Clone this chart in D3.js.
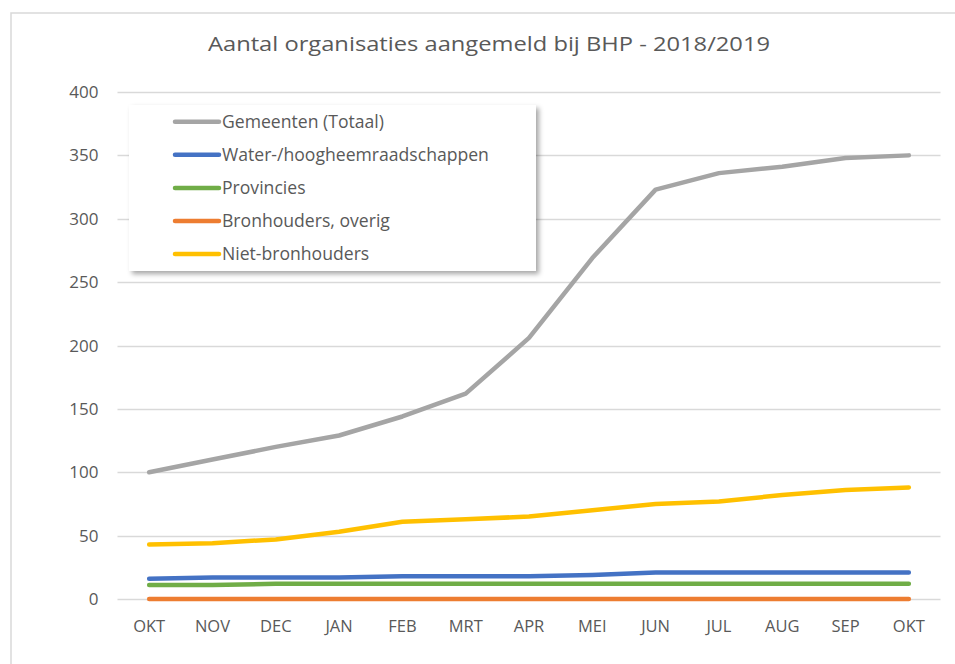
<!DOCTYPE html>
<html>
<head>
<meta charset="utf-8">
<script src="https://cdn.jsdelivr.net/npm/d3@7"></script>
<style>
  body { margin: 0; background: #fff; }
  svg text { font-family: "Open Sans", "Noto Sans", sans-serif; fill: #595959; }
</style>
</head>
<body>
<div id="chart"></div>
<script>
// data
var months = ["OKT", "NOV", "DEC", "JAN", "FEB", "MRT", "APR", "MEI", "JUN", "JUL", "AUG", "SEP", "OKT"];
var seriesNames = ["Gemeenten (Totaal)", "Water-/hoogheemraadschappen", "Provincies", "Bronhouders, overig", "Niet-bronhouders"];
var gemeenten = [100, 110, 120, 129, 144, 162, 206, 269, 323, 336, 341, 348, 350];
var water     = [16, 17, 17, 17, 18, 18, 18, 19, 21, 21, 21, 21, 21];
var provincies = [11, 11, 12, 12, 12, 12, 12, 12, 12, 12, 12, 12, 12];
var overig    = [0, 0, 0, 0, 0, 0, 0, 0, 0, 0, 0, 0, 0];
var niet      = [43, 44, 47, 53, 61, 63, 65, 70, 75, 77, 82, 86, 88];
var yTicks = [0, 50, 100, 150, 200, 250, 300, 350, 400];
var colors = ["#a5a5a5", "#4472c4", "#70ad47", "#ed7d31", "#ffc000"];

var allSeries = [gemeenten, water, provincies, overig, niet];

// 1. svg + frame ----------------------------------------------
var W = 955, H = 664;
var svg = d3.select("#chart").append("svg")
    .attr("width", W)
    .attr("height", H);

svg.append("rect")
    .attr("x", 11).attr("y", 13)
    .attr("width", W + 10).attr("height", H + 10)
    .attr("fill", "#fff")
    .attr("stroke", "#d9d9d9")
    .attr("stroke-width", 1.5);

svg.append("text")
    .attr("x", 489).attr("y", 51)
    .attr("text-anchor", "middle")
    .attr("textLength", 562)
    .attr("lengthAdjust", "spacingAndGlyphs")
    .style("font-size", "20px")
    .text("Aantal organisaties aangemeld bij BHP - 2018/2019");

// 2. scales ---------------------------------------------------
var x = d3.scalePoint()
    .domain(d3.range(months.length))
    .range([117.5, 940.5])
    .padding(0.5);

var y = d3.scaleLinear()
    .domain([0, 400])
    .range([599, 92]);

// gridlines
svg.append("g")
    .selectAll("line")
    .data(yTicks)
    .enter()
    .append("line")
    .attr("x1", 117.5).attr("x2", 940.5)
    .attr("y1", function(d) { return Math.round(y(d)) + 0.5; })
    .attr("y2", function(d) { return Math.round(y(d)) + 0.5; })
    .attr("stroke", "#d9d9d9")
    .attr("stroke-width", 1.3);

// y labels
svg.append("g")
    .selectAll("text")
    .data(yTicks)
    .enter()
    .append("text")
    .attr("x", 98.5)
    .attr("y", function(d) { return y(d) + 6; })
    .attr("text-anchor", "end")
    .style("font-size", "17px")
    .text(function(d) { return d; });

// x labels
svg.append("g")
    .selectAll("text")
    .data(months)
    .enter()
    .append("text")
    .attr("x", function(d, i) { return x(i); })
    .attr("y", 631.5)
    .attr("text-anchor", "middle")
    .style("font-size", "16.5px")
    .text(function(d) { return d; });

// 3. lines ----------------------------------------------------
var line = d3.line()
    .x(function(d, i) { return x(i); })
    .y(function(d) { return y(d); });

// draw bottom-most first so grey sits on top like the original
var order = [3, 2, 1, 4, 0];
svg.append("g")
    .selectAll("path")
    .data(order)
    .enter()
    .append("path")
    .attr("d", function(k) { return line(allSeries[k]); })
    .attr("fill", "none")
    .attr("stroke", function(k) { return colors[k]; })
    .attr("stroke-width", 4.5)
    .attr("stroke-linecap", "round")
    .attr("stroke-linejoin", "round");

// 4. legend ---------------------------------------------------
var defs = svg.append("defs");
var f = defs.append("filter").attr("id", "shadow")
    .attr("x", "-10%").attr("y", "-10%").attr("width", "130%").attr("height", "130%");
f.append("feDropShadow")
    .attr("dx", 3).attr("dy", 3).attr("stdDeviation", 2.5)
    .attr("flood-color", "#000").attr("flood-opacity", 0.35);

var lg = svg.append("g");
lg.append("rect")
    .attr("x", 129).attr("y", 105)
    .attr("width", 407).attr("height", 166)
    .attr("fill", "#fff")
    .attr("filter", "url(#shadow)");

var rows = lg.selectAll("g.row")
    .data(seriesNames)
    .enter()
    .append("g")
    .attr("class", "row")
    .attr("transform", function(d, i) { return "translate(0," + (121.7 + i * 33.1) + ")"; });

rows.append("line")
    .attr("x1", 175).attr("x2", 219)
    .attr("y1", 0).attr("y2", 0)
    .attr("stroke", function(d, i) { return colors[i]; })
    .attr("stroke-width", 4.5)
    .attr("stroke-linecap", "round");

rows.append("text")
    .attr("x", 222)
    .attr("y", 6)
    .style("font-size", "17.6px")
    .text(function(d) { return d; });
</script>
</body>
</html>
